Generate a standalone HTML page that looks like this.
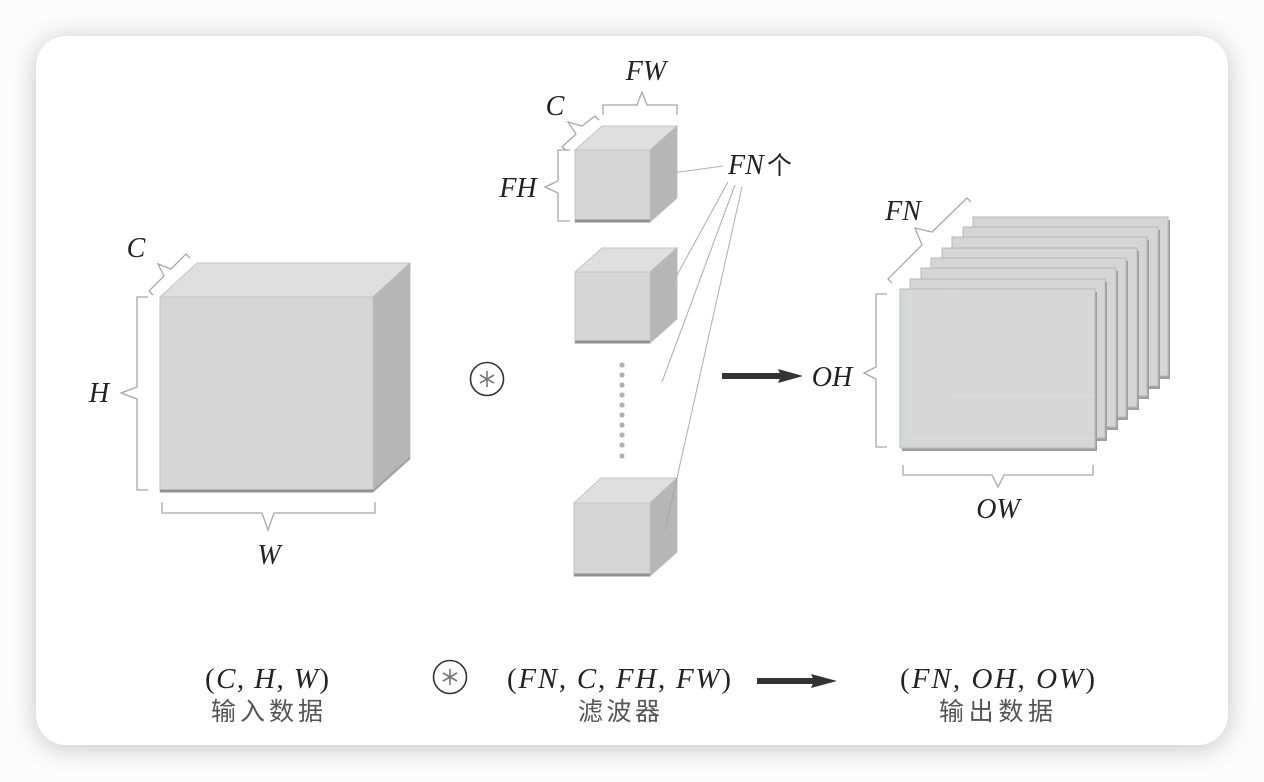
<!DOCTYPE html>
<html><head><meta charset="utf-8">
<style>
html,body{margin:0;padding:0;width:1264px;height:782px;background:#fcfcfc;overflow:hidden;}
.card{position:absolute;left:36px;top:36px;width:1192px;height:709px;border-radius:30px;background:#fff;box-shadow:0 3px 26px rgba(0,0,0,0.22);}
svg{position:absolute;left:0;top:0;}
.m{font-family:"Liberation Serif",serif;font-style:italic;font-size:28px;fill:#222;}
.f{font-family:"Liberation Serif",serif;font-size:29px;fill:#222;}
.cn{font-family:"Liberation Sans","Noto Sans CJK SC",sans-serif;font-size:25px;fill:#555;}
</style></head><body>
<div class="card"></div>
<svg width="1264" height="782" viewBox="0 0 1264 782" xmlns="http://www.w3.org/2000/svg">
<g stroke-linejoin="round">
<polygon points="160,297 197,263 410,263 373,297" fill="#dedfe1" stroke="#c6c6c6" stroke-width="1"/>
<polygon points="373,297 410,263 410,458 373,492" fill="#b5b6b8" stroke="#bdbdbd" stroke-width="1"/>
<rect x="160" y="297" width="213" height="195" fill="#d5d6d8" stroke="#c4c4c4" stroke-width="1"/>
<line x1="160" y1="491" x2="373" y2="491" stroke="#919191" stroke-width="3"/>
<line x1="373" y1="491" x2="410" y2="458" stroke="#a0a0a0" stroke-width="2"/>
</g>
<g fill="none" stroke="#a8a8a8" stroke-width="1.3">
<path d="M148,297 H137 V387 L121,393 L137,399 V490 H148"/>
<path d="M162,502 V513 H262 L268,530 L274,513 H375 V502"/>
<path d="M153,295 L149,291 L164,276 L158,264 L171,269 L186,254 L190,258"/>
</g>
<text class="m" x="136" y="257" text-anchor="middle">C</text>
<text class="m" x="99" y="402" text-anchor="middle">H</text>
<text class="m" x="269" y="564" text-anchor="middle">W</text>

<g>
<circle cx="487" cy="379" r="16.5" fill="none" stroke="#333" stroke-width="1.6"/>
<g stroke="#777" stroke-width="1.6">
<line x1="487" y1="371" x2="487" y2="387"/>
<line x1="480" y1="375" x2="494" y2="383"/>
<line x1="480" y1="383" x2="494" y2="375"/>
</g>
</g>

<g>
<polygon points="575,150 602,126 677,126 650,150" fill="#dedfe1" stroke="#c6c6c6"/>
<polygon points="650,150 677,126 677,198 650,222" fill="#b5b6b8" stroke="#bdbdbd"/>
<rect x="575" y="150" width="75" height="72" fill="#d5d6d8" stroke="#c4c4c4"/>
<line x1="575" y1="221" x2="650" y2="221" stroke="#919191" stroke-width="3"/>

<polygon points="575,272 602,248 677,248 650,272" fill="#dedfe1" stroke="#c6c6c6"/>
<polygon points="650,272 677,248 677,319 650,343" fill="#b5b6b8" stroke="#bdbdbd"/>
<rect x="575" y="272" width="75" height="71" fill="#d5d6d8" stroke="#c4c4c4"/>
<line x1="575" y1="342" x2="650" y2="342" stroke="#919191" stroke-width="3"/>

<polygon points="574,503 601,478 677,478 650,503" fill="#dedfe1" stroke="#c6c6c6"/>
<polygon points="650,503 677,478 677,552 650,576" fill="#b5b6b8" stroke="#bdbdbd"/>
<rect x="574" y="503" width="76" height="73" fill="#d5d6d8" stroke="#c4c4c4"/>
<line x1="574" y1="575" x2="650" y2="575" stroke="#919191" stroke-width="3"/>
</g>
<g fill="#b0b0b0">
<circle cx="622" cy="365" r="2.6"/><circle cx="622" cy="375" r="2.6"/><circle cx="622" cy="385" r="2.6"/>
<circle cx="622" cy="395" r="2.6"/><circle cx="622" cy="405" r="2.6"/><circle cx="622" cy="415" r="2.6"/>
<circle cx="622" cy="425" r="2.6"/><circle cx="622" cy="435" r="2.6"/><circle cx="622" cy="445" r="2.6"/>
<circle cx="622" cy="456" r="2.6"/>
</g>
<g fill="none" stroke="#a8a8a8" stroke-width="1.3">
<path d="M570,150 H558 V181 L545,187 L558,193 V221 H570"/>
<path d="M603,115 V105 H637 L642,92 L647,105 H677 V115"/>
<path d="M566,150 L562,147 L576,134 L568,122 L582,126 L595,116 L599,120"/>
</g>
<text class="m" x="555" y="115" text-anchor="middle">C</text>
<text class="m" x="518" y="197" text-anchor="middle">FH</text>
<text class="m" x="646" y="80" text-anchor="middle">FW</text>
<text class="m" x="728" y="174">FN</text>
<text x="767" y="174" style="font-family:'Liberation Sans','Noto Sans CJK SC',sans-serif;font-size:25px;fill:#222;">个</text>
<g stroke="#b3b3b3" stroke-width="1.1" fill="none">
<line x1="723" y1="166" x2="665" y2="174"/>
<line x1="728" y1="182" x2="665" y2="297"/>
<line x1="735" y1="185" x2="662" y2="382"/>
<line x1="742" y1="187" x2="677" y2="478"/>
<line x1="677" y1="478" x2="665" y2="530" stroke="#a8a8a8"/>
</g>

<rect x="722" y="373" width="60" height="6" fill="#333"/>
<polygon points="778,369 803,376 778,383 781,376" fill="#333"/>
<text class="m" x="832" y="386" text-anchor="middle">OH</text>

<g>
<rect x="975" y="220" width="195" height="159" fill="#9e9fa1"/><rect x="973" y="217" width="195" height="159" fill="#d4d5d7" stroke="#b8b8b8"/>
<rect x="965" y="230" width="195" height="159" fill="#9e9fa1"/><rect x="963" y="227" width="195" height="159" fill="#d4d5d7" stroke="#b8b8b8"/>
<rect x="954" y="240" width="195" height="159" fill="#9e9fa1"/><rect x="952" y="237" width="195" height="159" fill="#d4d5d7" stroke="#b8b8b8"/>
<rect x="944" y="251" width="195" height="159" fill="#9e9fa1"/><rect x="942" y="248" width="195" height="159" fill="#d4d5d7" stroke="#b8b8b8"/>
<rect x="933" y="261" width="195" height="159" fill="#9e9fa1"/><rect x="931" y="258" width="195" height="159" fill="#d4d5d7" stroke="#b8b8b8"/>
<rect x="923" y="271" width="195" height="159" fill="#9e9fa1"/><rect x="921" y="268" width="195" height="159" fill="#d4d5d7" stroke="#b8b8b8"/>
<rect x="912" y="282" width="195" height="159" fill="#9e9fa1"/><rect x="910" y="279" width="195" height="159" fill="#d4d5d7" stroke="#b8b8b8"/>
<rect x="902" y="292" width="195" height="159" fill="#9e9fa1"/><rect x="900" y="289" width="195" height="159" fill="#d5d6d8" stroke="#bcbcbc"/>
<g stroke="#e2e2e2" stroke-width="1" fill="none" opacity="0.7">
<path d="M910,290 V438 H1095"/>
<path d="M952,290 V396 H1095"/>
</g>
</g>
<g fill="none" stroke="#a8a8a8" stroke-width="1.3">
<path d="M887,294 H876 V367 L864,373 L876,379 V447 H887"/>
<path d="M903,465 V475 H992 L998,487 L1004,475 H1093 V465"/>
<path d="M892,283 L888,279 L922,245 L915,228 L932,232 L967,198 L971,202"/>
</g>
<text class="m" x="903" y="220" text-anchor="middle">FN</text>
<text class="m" x="998" y="518" text-anchor="middle">OW</text>

<text class="f" x="205" y="688" textLength="124" lengthAdjust="spacing">(<tspan font-style="italic">C</tspan>, <tspan font-style="italic">H</tspan>, <tspan font-style="italic">W</tspan>)</text>
<text class="cn" x="211" y="720" textLength="112" lengthAdjust="spacing">输入数据</text>

<circle cx="450" cy="677" r="16.5" fill="none" stroke="#333" stroke-width="1.6"/>
<g stroke="#777" stroke-width="1.6">
<line x1="450" y1="669" x2="450" y2="685"/>
<line x1="443" y1="673" x2="457" y2="681"/>
<line x1="443" y1="681" x2="457" y2="673"/>
</g>

<text class="f" x="507" y="688" textLength="224" lengthAdjust="spacing">(<tspan font-style="italic">FN</tspan>, <tspan font-style="italic">C</tspan>, <tspan font-style="italic">FH</tspan>, <tspan font-style="italic">FW</tspan>)</text>
<text class="cn" x="578" y="720" textLength="82" lengthAdjust="spacing">滤波器</text>

<rect x="757" y="678" width="58" height="6" fill="#333"/>
<polygon points="811,674 837,681 811,688 814,681" fill="#333"/>

<text class="f" x="900" y="688" textLength="195" lengthAdjust="spacing">(<tspan font-style="italic">FN</tspan>, <tspan font-style="italic">OH</tspan>, <tspan font-style="italic">OW</tspan>)</text>
<text class="cn" x="939" y="720" textLength="114" lengthAdjust="spacing">输出数据</text>
</svg>
</body></html>
